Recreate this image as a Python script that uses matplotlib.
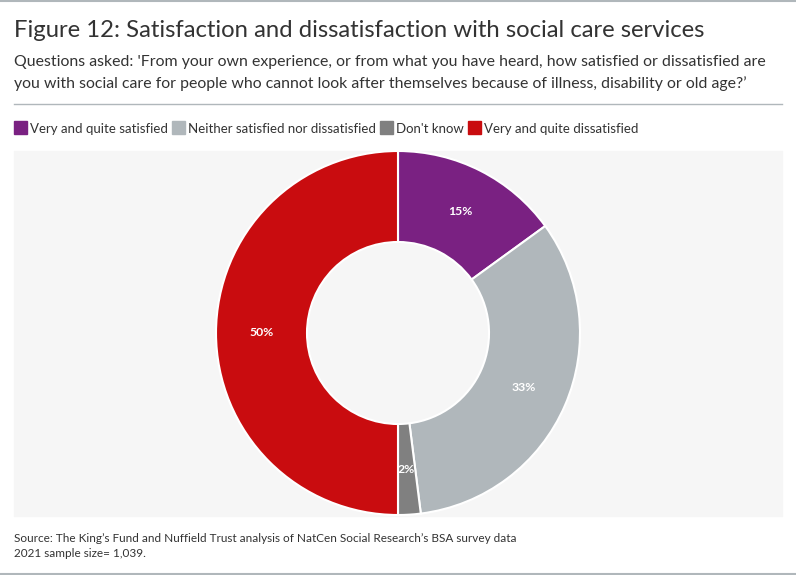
import matplotlib
matplotlib.use("Agg")
import matplotlib.pyplot as plt
from matplotlib.patches import Rectangle
from matplotlib.lines import Line2D

categories = ["Very and quite satisfied", "Neither satisfied nor dissatisfied",
              "Don't know", "Very and quite dissatisfied"]
values = [15, 33, 2, 50]
labels = ["15%", "33%", "2%", "50%"]
colors = ["#7A2182", "#B0B7BB", "#808080", "#C90C0F"]

title = "Figure 12: Satisfaction and dissatisfaction with social care services"
subtitle = ("Questions asked: 'From your own experience, or from what you have heard, how satisfied or dissatisfied are\n"
            "you with social care for people who cannot look after themselves because of illness, disability or old age?’")
source = ("Source: The King’s Fund and Nuffield Trust analysis of NatCen Social Research’s BSA survey data\n"
          "2021 sample size= 1,039.")

W, H = 796, 575
fig = plt.figure(figsize=(W/100, H/100), dpi=100)
fig.patch.set_facecolor("white")
FONT = ["Lato", "DejaVu Sans"]

def px(x, y):
    return x / W, 1 - y / H

# top and bottom borders
fig.add_artist(Line2D([0, 1], [1 - 1/H, 1 - 1/H], color="#B0B7BB", lw=1.5, transform=fig.transFigure))
fig.add_artist(Line2D([0, 1], [1 - 574/H, 1 - 574/H], color="#B0B7BB", lw=1.5, transform=fig.transFigure))
# separator
fig.add_artist(Line2D([14/W, 782/W], [1 - 104/H, 1 - 104/H], color="#B0B7BB", lw=1, transform=fig.transFigure))

# title & subtitle
fig.text(*px(14, 37), title, fontsize=17.2, color="#333333", family=FONT, va="baseline", ha="left")
fig.text(*px(14, 66), subtitle.split("\n")[0], fontsize=11.4, color="#333333", family=FONT, va="baseline")
fig.text(*px(14, 88), subtitle.split("\n")[1], fontsize=11.4, color="#333333", family=FONT, va="baseline")

# legend (laid out left to right)
renderer = fig.canvas.get_renderer()
x = 14
for c, cat in zip(colors, categories):
    fig.add_artist(Rectangle(px(x, 134), 13/W, 13/H, color=c, transform=fig.transFigure))
    t = fig.text(*px(x + 16, 133), cat, fontsize=9.5, color="#333333", family=FONT, va="baseline")
    bb = t.get_window_extent(renderer=renderer)
    x = bb.x1 + 4

# plot background
fig.add_artist(Rectangle(px(14, 516), 768/W, 365/H, color="#F6F6F6", transform=fig.transFigure, zorder=0))

# donut
cx, cy, r = 398, 333, 182
ax = fig.add_axes([(cx - r)/W, (H - cy - r)/H, 2*r/W, 2*r/H])
ax.set_facecolor("none")
wedges, texts, autotexts = ax.pie(values, colors=colors, startangle=90, counterclock=False,
                                  radius=1, autopct=lambda p: "",
                                  pctdistance=0.75,
                                  wedgeprops=dict(width=0.5, edgecolor="white", linewidth=1.5))
for t, lab in zip(autotexts, labels):
    t.set_text(lab)
    t.set_color("white")
    t.set_fontweight("bold")
    t.set_fontsize(8.8)
    t.set_family(FONT)
ax.set_xlim(-1, 1)
ax.set_ylim(-1, 1)
ax.set_aspect("equal")
ax.axis("off")

# source
fig.text(*px(14, 542), source.split("\n")[0], fontsize=8.5, color="#333333", family=FONT, va="baseline")
fig.text(*px(14, 557), source.split("\n")[1], fontsize=8.5, color="#333333", family=FONT, va="baseline")

fig.savefig("out.png", dpi=100, facecolor="white")
